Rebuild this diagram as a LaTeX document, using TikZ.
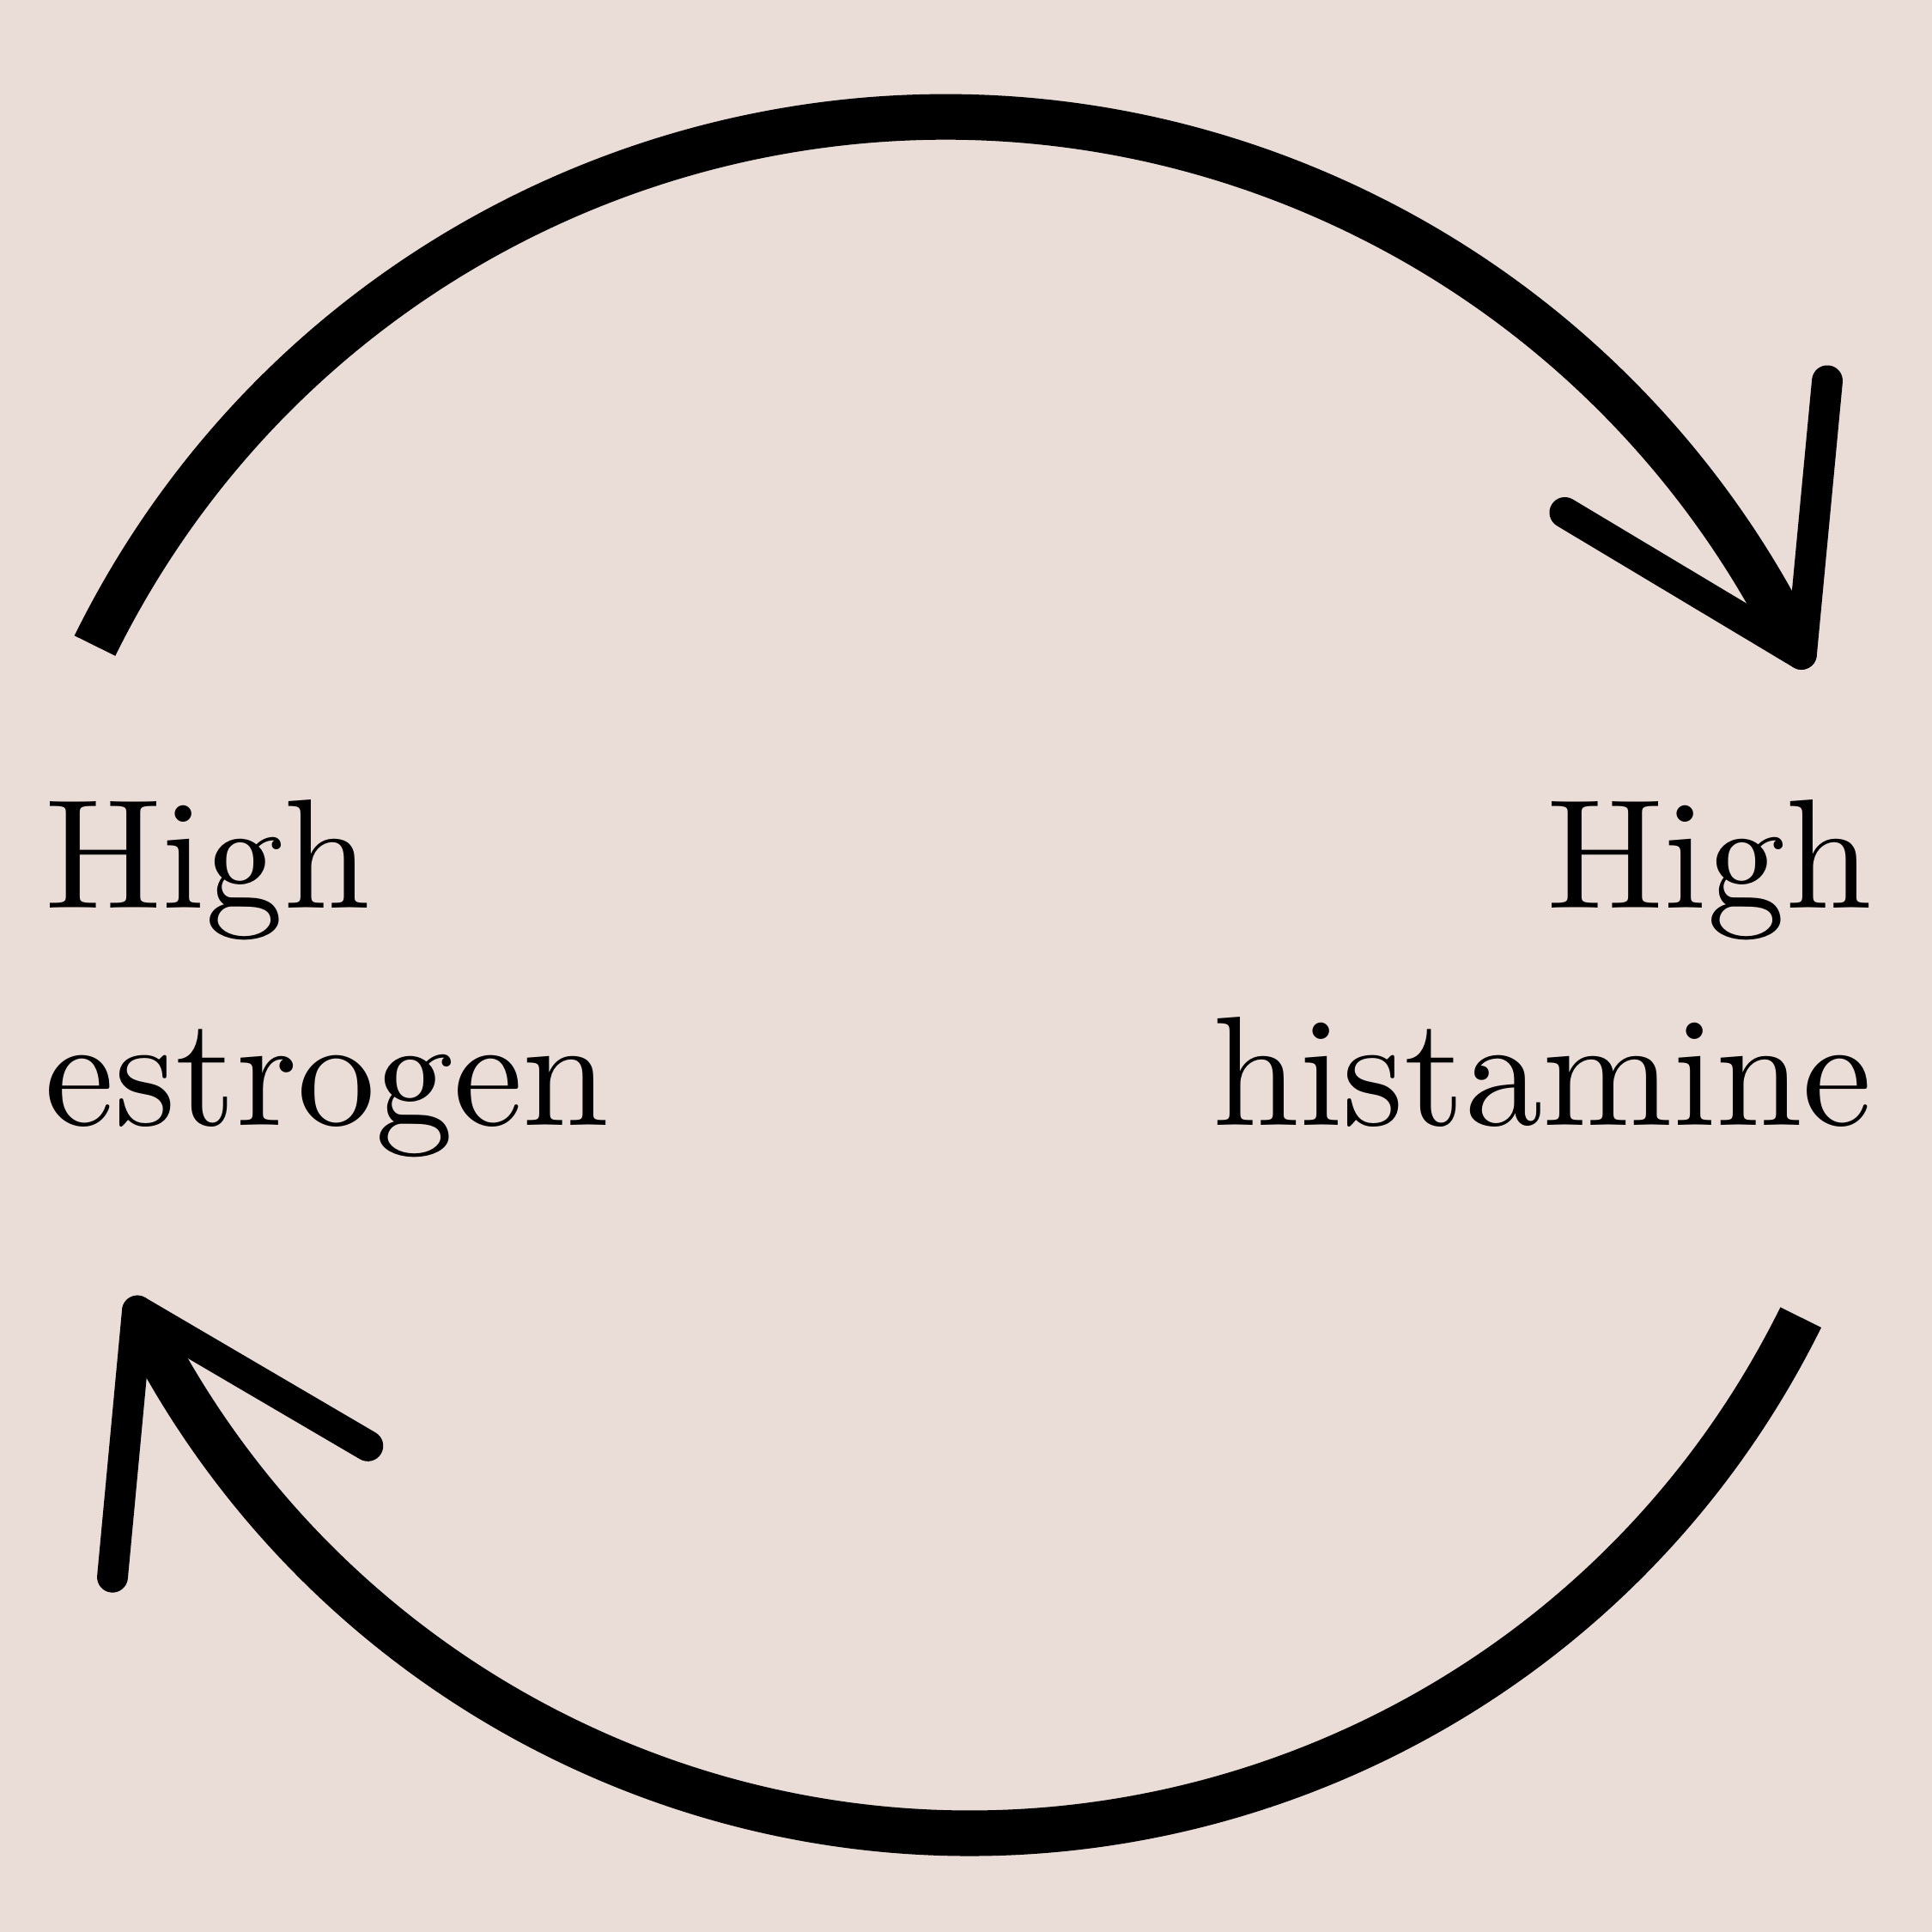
\documentclass[tikz,border=0pt]{standalone}
\usepackage{fontspec}
\usepackage{tikz}
\usepackage{xcolor}
\usetikzlibrary{backgrounds}
\newfontfamily\labelfont{lmroman10-regular.otf}
\definecolor{Paper}{HTML}{EADCD7}
\definecolor{Ink}{HTML}{000000}

\begin{document}
\begin{tikzpicture}[
  cyclearc/.style={draw=Ink,line width=0.37cm},
  headline/.style={draw=Ink,line width=0.25cm,line cap=round,line join=round},
  hormone/.style={inner sep=0pt,font=\labelfont\fontsize{36}{50}\selectfont}
]
\useasboundingbox (0,0) rectangle (15.68,15.68);
\node[hormone,anchor=base west,align=left] (estro) at (0.36,6.55) {High\\estrogen};
\node[hormone,anchor=base east,align=right] (hista) at (15.20,6.55) {High\\histamine};
\coordinate (tStart) at (0.770,10.439);
\coordinate (tEnd) at (14.431,10.708);
\coordinate (tTip) at (14.62,10.37);
\coordinate (tArmA) at (12.70,11.52);
\coordinate (tArmB) at (14.83,12.59);
\coordinate (bStart) at (14.615,4.988);
\coordinate (bEnd) at (1.268,4.734);
\coordinate (bTip) at (1.115,5.041);
\coordinate (bArmA) at (2.985,3.945);
\coordinate (bArmB) at (0.913,2.880);
\draw[cyclearc] (tStart) arc[start angle=153.75,end angle=28.5,radius=7.693];
\draw[headline] (tEnd) -- (tTip);
\draw[headline] (tArmA) -- (tTip) -- (tArmB);
\draw[cyclearc] (bStart) arc[start angle=-26.32,end angle=-151.5,radius=7.519];
\draw[headline] (bEnd) -- (bTip);
\draw[headline] (bArmA) -- (bTip) -- (bArmB);
\begin{scope}[on background layer]
  \fill[Paper] (0,0) rectangle (15.68,15.68);
\end{scope}
\end{tikzpicture}
\end{document}
